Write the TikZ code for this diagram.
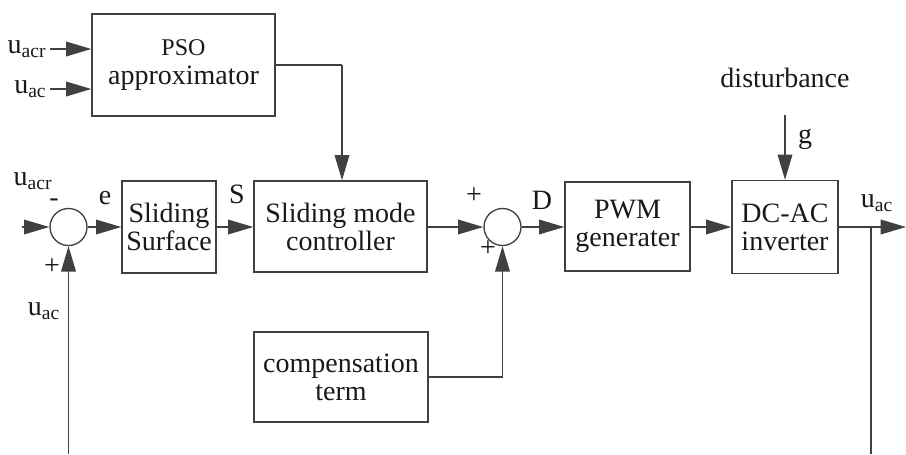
\documentclass[tikz,border=0pt]{standalone}
\usepackage{fontspec}
\setmainfont{Liberation Serif}
\usetikzlibrary{arrows.meta,calc}
\newlength\px
\setlength\px{0.75pt}
\begin{document}
\begin{tikzpicture}[x=0.75pt,y=-0.75pt,
  line width=1pt,
  every node/.style={font=\fontsize{21}{24}\selectfont, text=black!90},
  blk/.style={draw=black!75, rectangle, align=center, inner sep=0pt},
  sumc/.style={draw=black!75, circle, minimum size=37\px, inner sep=0pt},
  wire/.style={draw=black!75},
  arr/.style={draw=black!75, -{Triangle[length=19pt,width=11pt]}},
  lbl/.style={inner sep=0pt}
]
\useasboundingbox (0,0) rectangle (906,454);
% blocks
\node[blk, minimum width=183\px, minimum height=102\px] (pso) at (183.5,65)
  {{\fontsize{18}{20}\selectfont PSO}\\[-2pt]approximator};
\node[blk, minimum width=94\px, minimum height=92\px] (ss) at (169,227)
  {Sliding\\[-3pt]Surface};
\node[blk, minimum width=173\px, minimum height=91\px] (smc) at (340.5,226.5)
  {Sliding mode\\[-3pt]controller};
\node[blk, minimum width=125\px, minimum height=89\px] (pwm) at (627.5,226.5)
  {PWM\\[-3pt]generater};
\node[blk, minimum width=106\px, minimum height=93\px] (inv) at (785,227)
  {DC-AC\\[-3pt]inverter};
\node[blk, minimum width=174\px, minimum height=90\px] (comp) at (341,377)
  {compensation\\[-3pt]term};
% summing junctions
\node[sumc] (s1) at (68.5,227) {};
\node[sumc] (s2) at (502.5,227) {};
% free ends
\coordinate (in1) at (50,49);
\coordinate (in2) at (50,89);
\coordinate (ref) at (22,227);
\coordinate (fbl) at (68.5,454);
\coordinate (out) at (906,227);
\coordinate (tap) at (871,227);
\coordinate (fbr) at (871,454);
\coordinate (dist) at (785,115);
\coordinate (psoc) at (342,65);
\coordinate (compc) at (502.5,377);
% labels
\node[lbl, anchor=east] at (47,49) {u\textsubscript{acr}};
\node[lbl, anchor=east] at (47,89) {u\textsubscript{ac}};
\node[lbl] at (33,181) {u\textsubscript{acr}};
\node[lbl] at (54,203) {-};
\node[lbl] at (52,267) {+};
\node[lbl] at (44,311) {u\textsubscript{ac}};
\node[lbl] at (105,198) {e};
\node[lbl] at (237,194) {S};
\node[lbl] at (474,196) {+};
\node[lbl] at (488,249) {+};
\node[lbl] at (542,200) {D};
\node[lbl] at (785,78) {disturbance};
\node[lbl] at (805,139) {g};
\node[lbl] at (877,203) {u\textsubscript{ac}};
% connectors
\draw[arr] (in1) -- (in1 -| pso.west);
\draw[arr] (in2) -- (in2 -| pso.west);
\draw[wire] (pso.east |- psoc) -- (psoc);
\draw[arr] (psoc) -- (psoc |- smc.north);
\draw[arr] (ref) -- (s1.west);
\draw[arr] (fbl) -- (s1.south);
\draw[arr] (s1.east) -- (ss.west);
\draw[arr] (ss.east) -- (ss.east -| smc.west);
\draw[arr] (smc.east |- s2) -- (s2.west);
\draw[arr] (s2.east) -- (s2.east -| pwm.west);
\draw[arr] (pwm.east |- inv) -- (inv.west);
\draw[arr] (dist) -- (inv.north);
\draw[arr] (inv.east) -- (out);
\draw[wire] (tap) -- (fbr);
\draw[wire] (comp.east) -- (compc);
\draw[arr] (compc) -- (s2.south);
\end{tikzpicture}
\end{document}
